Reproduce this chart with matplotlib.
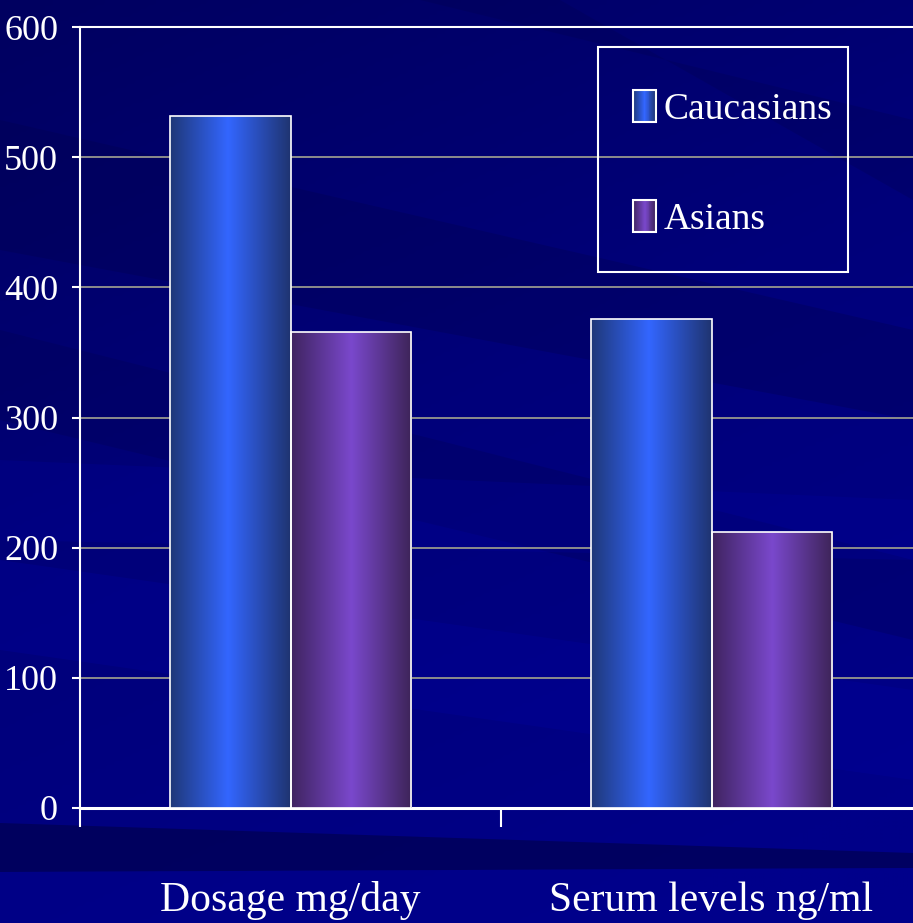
import numpy as np
import matplotlib
matplotlib.use("Agg")
import matplotlib.pyplot as plt
from matplotlib.colors import LinearSegmentedColormap
from matplotlib.patches import Rectangle, Polygon
from matplotlib.legend_handler import HandlerBase

# ---- data ----
categories = ["Dosage mg/day", "Serum levels ng/ml"]
series_names = ["Caucasians", "Asians"]
caucasians = [532, 376]
asians = [366, 212]
y_ticks = [0, 100, 200, 300, 400, 500, 600]

W, H = 913, 923
plt.rcParams["font.family"] = ["Liberation Serif", "DejaVu Serif"]

fig = plt.figure(figsize=(W / 100, H / 100), dpi=100)
fig.patch.set_facecolor("#00007e")

# ---- slide-style background: diagonal shading bands ----
bg = fig.add_axes([0, 0, 1, 1], zorder=-10)
bg.set_xlim(0, W)
bg.set_ylim(H, 0)
bg.axis("off")
yy, xx = np.mgrid[0:H:4, 0:W:4]
t = np.clip((0.45 * xx / W + yy / H) / 1.3, 0, 1)
base = LinearSegmentedColormap.from_list("bgc", ["#000060", "#00007a", "#000088"])
bg.imshow(base(t), extent=(0, W, H, 0), aspect="auto", interpolation="bilinear")

def band(l0, l1, r0, r1, color, alpha):
    bg.add_patch(Polygon([(0, l0), (W, r0), (W, r1), (0, l1)], closed=True,
                         facecolor=color, edgecolor="none", alpha=alpha))

band(120, 250, 330, 420, "#00004c", 0.3)
band(330, 420, 560, 640, "#00004c", 0.25)
band(560, 650, 690, 780, "#0000a0", 0.3)
band(460, 540, 500, 560, "#0000a0", 0.25)
band(823, 872, 853, 868, "#000048", 0.6)
band(872, 923, 868, 923, "#000090", 0.4)
bg.add_patch(Polygon([(420, 0), (560, 0), (913, 200), (913, 120)], closed=True,
                     facecolor="#00004c", edgecolor="none", alpha=0.25))

# ---- main axes ----
ax = fig.add_axes([80 / W, 1 - 808 / H, (922 - 80) / W, (808 - 27) / H])
ax.set_facecolor("none")

cmap_c = LinearSegmentedColormap.from_list(
    "cauc", [(0, "#1f3878"), (0.48, "#3366ff"), (1, "#1f3470")])
cmap_a = LinearSegmentedColormap.from_list(
    "asia", [(0, "#3f2460"), (0.5, "#7a48cc"), (1, "#3d2458")])

x = np.arange(len(categories)) + 0.5
bw = 0.286
bars_c = ax.bar(x - bw / 2, caucasians, bw, facecolor="none", edgecolor="white",
                linewidth=1.2, zorder=4, label=series_names[0])
bars_a = ax.bar(x + bw / 2, asians, bw, facecolor="none", edgecolor="white",
                linewidth=1.2, zorder=4, label=series_names[1])

grad = np.linspace(0, 1, 256).reshape(1, -1)
for bars, cm in ((bars_c, cmap_c), (bars_a, cmap_a)):
    for b in bars:
        x0, y0 = b.get_x(), b.get_y()
        im = ax.imshow(grad, cmap=cm, extent=(x0, x0 + b.get_width(), y0, y0 + b.get_height()),
                       aspect="auto", zorder=3, interpolation="bilinear")
        im.set_clip_path(b)

ax.set_xlim(0, 2)
ax.set_ylim(0, 600)

ax.set_yticks(y_ticks)
ax.set_yticklabels([str(v) for v in y_ticks])
ax.set_xticks([0, 1])
ax.set_xticklabels([])
ax.tick_params(axis="y", colors="white", labelcolor="white", labelsize=26,
               length=5.8, width=1.5, direction="out", pad=10)
ax.tick_params(axis="x", colors="white", length=14, width=1.5, direction="out")
ax.yaxis.grid(True, color="#8c8c8c", linewidth=1.4, zorder=1)
ax.set_axisbelow(True)

for side in ("left", "top"):
    ax.spines[side].set_color("white")
    ax.spines[side].set_linewidth(1.5)
ax.spines["bottom"].set_color("white")
ax.spines["bottom"].set_linewidth(2.2)
ax.spines["right"].set_visible(False)

# category labels under the axis
for xc, cat in zip(x, categories):
    fig.text(ax.transData.transform((xc, 0))[0] / W, 12 / H, cat, color="white",
             fontsize=30, ha="center", va="baseline")


class GradientHandler(HandlerBase):
    def __init__(self, cmap):
        super().__init__()
        self.cmap = cmap

    def create_artists(self, legend, orig_handle, xdescent, ydescent, width, height,
                       fontsize, trans):
        n = 24
        arts = []
        for i in range(n):
            arts.append(Rectangle((-xdescent + i * width / n, -ydescent), width / n, height,
                                  facecolor=self.cmap((i + 0.5) / n), edgecolor="none",
                                  transform=trans))
        arts.append(Rectangle((-xdescent, -ydescent), width, height, fill=False,
                              edgecolor="white", linewidth=1.5, transform=trans))
        return arts


leg = fig.legend(handles=[bars_c, bars_a], labels=series_names,
                 handler_map={bars_c: GradientHandler(cmap_c), bars_a: GradientHandler(cmap_a)},
                 loc="upper left", bbox_to_anchor=(633 / W, 1 - 90 / H),
                 borderaxespad=0, fontsize=27, labelcolor="white",
                 handlelength=0.62, handleheight=0.93, handletextpad=0.2,
                 labelspacing=1.96, borderpad=0, frameon=False)

# legend box
fig.add_artist(Rectangle((598 / W, 1 - 272 / H), 250 / W, 225 / H, transform=fig.transFigure,
                         fill=False, edgecolor="white", linewidth=1.5))

fig.savefig("out.png", dpi=100, facecolor=fig.get_facecolor())
